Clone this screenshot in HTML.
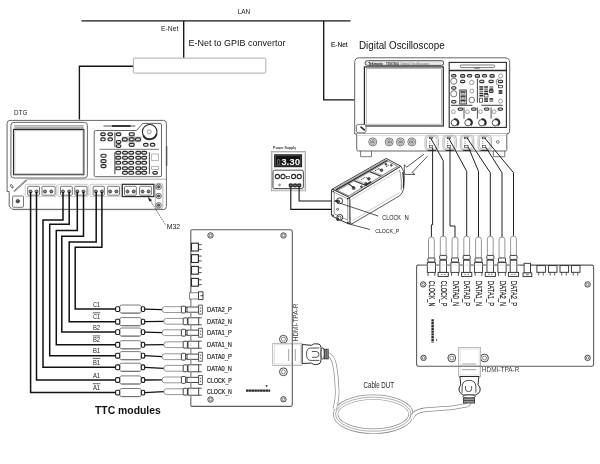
<!DOCTYPE html>
<html><head><meta charset="utf-8"><title>Test setup</title>
<style>
html,body{margin:0;padding:0;background:#fff;}
body{width:600px;height:464px;overflow:hidden;}
svg{display:block;font-family:"Liberation Sans",sans-serif;filter:grayscale(1) blur(0.35px);}
</style></head><body>
<svg width="600" height="464" viewBox="0 0 600 464">
<rect width="600" height="464" fill="#fff"/>
<g fill="none" stroke="#151515" stroke-width="1.35">
<path d="M81.5 20.8H350.5"/>
<path d="M183.7 21V57.8"/>
<path d="M323.7 21V99.8H355"/>
<path d="M133.4 66.2H79.4V119.5"/>
</g>
<rect x="133.4" y="58.1" width="132.4" height="15" rx="1" fill="#fff" stroke="#999" stroke-width="0.8"/>
<text x="237.7" y="14.2" font-size="8" font-weight="normal" fill="#222" textLength="12.5" lengthAdjust="spacingAndGlyphs" >LAN</text>
<text x="161" y="31" font-size="7" font-weight="normal" fill="#222" textLength="17.3" lengthAdjust="spacingAndGlyphs" >E-Net</text>
<text x="331" y="47" font-size="7" font-weight="normal" fill="#222" textLength="16.7" lengthAdjust="spacingAndGlyphs" stroke="#222" stroke-width="0.15">E-Net</text>
<text x="188.6" y="46" font-size="9.9" font-weight="normal" fill="#111" textLength="96.8" lengthAdjust="spacingAndGlyphs" >E-Net to GPIB convertor</text>
<text x="359" y="49.3" font-size="11.6" font-weight="normal" fill="#111" textLength="85.7" lengthAdjust="spacingAndGlyphs" >Digital Oscilloscope</text>
<text x="14" y="115.4" font-size="7" font-weight="normal" fill="#222" textLength="13.3" lengthAdjust="spacingAndGlyphs" >DTG</text>
<text x="166.7" y="229" font-size="8" font-weight="normal" fill="#222" textLength="13.5" lengthAdjust="spacingAndGlyphs" >M32</text>
<text x="95" y="413.7" font-size="10.2" font-weight="bold" fill="#111" textLength="65.8" lengthAdjust="spacingAndGlyphs" >TTC modules</text>
<g fill="none" stroke-linejoin="round">
<path d="M10 120.4H163.6Q166.4 120.4 166.4 123.4V206.4Q166.4 209.6 163.2 209.6H12.6L9.2 206V191.5H7.1V123.4Q7.1 120.4 10 120.4Z" fill="#fff" stroke="#555" stroke-width="0.9"/>
<path d="M26.5 179.2H166.4" stroke="#8a8a8a" stroke-width="0.7"/>
<path d="M9.2 208.4H160" stroke="#bbb" stroke-width="0.5"/>
<path d="M166.6 146V166" stroke="#555" stroke-width="1.4"/>
<rect x="10.9" y="122.4" width="76.5" height="55.6" rx="3" stroke="#555" stroke-width="0.9"/>
<path d="M14.3 125.9H83.7M14.3 127.9H83.7" stroke="#555" stroke-width="0.8"/>
<rect x="13.5" y="129.4" width="70.4" height="45.4" stroke="#2a2a2a" stroke-width="1.1"/>
<rect x="14.8" y="130.6" width="68" height="43" stroke="#8a8a8a" stroke-width="0.5"/>
<path d="M26.5 180L14 191.5" stroke="#555" stroke-width="1.6"/>
<path d="M26.5 180L14 191.5" stroke="#fff" stroke-width="0.5"/>
<ellipse cx="11.8" cy="186.3" rx="1" ry="1.9" transform="rotate(-35 11.8 186.3)" stroke="#2a2a2a" stroke-width="0.7"/>
<path d="M95.7 130.5H136.6L142.6 123.4H160Q161.5 123.4 161.5 125V175.2Q161.5 176.7 160 176.7H95.7Q94.2 176.7 94.2 175.2V132Q94.2 130.5 95.7 130.5Z" stroke="#555" stroke-width="0.9"/>
<path d="M103.5 126H135.4" stroke="#2a2a2a" stroke-width="0.8"/>
<path d="M112 126H130.5" stroke="#2a2a2a" stroke-width="1.8"/>
<circle cx="149.7" cy="131.8" r="7.3" stroke="#2a2a2a" stroke-width="1.1" fill="#fff"/>
<path d="M143.2 135.5A7.3 7.3 0 0 0 156.7 133.8" stroke="#2a2a2a" stroke-width="1.7"/>
<circle cx="149.2" cy="131.8" r="2" stroke="#555" stroke-width="0.6"/>
<path d="M99.3 149.3H159" stroke="#555" stroke-width="0.8"/>
<path d="M114.9 132.2V147.3M114.9 152.3V174.2M149.4 152.3V174.2" stroke="#2a2a2a" stroke-width="0.9"/>
</g>
<rect x="100.7" y="132.8" width="4.6" height="2.8" rx="1.4" fill="#e6e6e6" stroke="#2a2a2a" stroke-width="1.15"/>
<rect x="100.7" y="137.9" width="4.6" height="2.8" rx="1.4" fill="#e6e6e6" stroke="#2a2a2a" stroke-width="1.15"/>
<rect x="107.9" y="132.8" width="4.6" height="2.8" rx="1.4" fill="#e6e6e6" stroke="#2a2a2a" stroke-width="1.15"/>
<rect x="107.9" y="137.9" width="4.6" height="2.8" rx="1.4" fill="#e6e6e6" stroke="#2a2a2a" stroke-width="1.15"/>
<rect x="116.3" y="132.8" width="4.6" height="2.8" rx="1.4" fill="#e6e6e6" stroke="#2a2a2a" stroke-width="1.15"/>
<rect x="116.3" y="140.5" width="4.6" height="2.8" rx="1.4" fill="#e6e6e6" stroke="#2a2a2a" stroke-width="1.15"/>
<rect x="116.3" y="144.7" width="4.6" height="2.8" rx="1.4" fill="#e6e6e6" stroke="#2a2a2a" stroke-width="1.15"/>
<path d="M128.6 132H134.8V136.6H141.4V142.2H134.8V146.8H128.6V142.2H121.6V136.6H128.6Z" fill="#c8c8c8"/>
<rect x="129.2" y="132.7" width="5" height="3" rx="1.5" fill="#e6e6e6" stroke="#2a2a2a" stroke-width="1.15"/>
<rect x="129.2" y="143.3" width="5" height="3" rx="1.5" fill="#e6e6e6" stroke="#2a2a2a" stroke-width="1.15"/>
<rect x="122.3" y="137.9" width="5" height="3" rx="1.5" fill="#e6e6e6" stroke="#2a2a2a" stroke-width="1.15"/>
<rect x="135.5" y="137.9" width="5" height="3" rx="1.5" fill="#e6e6e6" stroke="#2a2a2a" stroke-width="1.15"/>
<rect x="129.2" y="137.9" width="5" height="3" rx="1.5" fill="#e6e6e6" stroke="#2a2a2a" stroke-width="1.15"/>
<rect x="143.5" y="143.4" width="4.6" height="2.8" rx="1.4" fill="#e6e6e6" stroke="#2a2a2a" stroke-width="1.15"/>
<rect x="150.3" y="143.4" width="4.6" height="2.8" rx="1.4" fill="#e6e6e6" stroke="#2a2a2a" stroke-width="1.15"/>
<rect x="100.9" y="154.2" width="5.2" height="3" rx="1.5" fill="#e6e6e6" stroke="#2a2a2a" stroke-width="1.15"/>
<rect x="100.9" y="159.6" width="5.2" height="3" rx="1.5" fill="#e6e6e6" stroke="#2a2a2a" stroke-width="1.15"/>
<rect x="100.9" y="164.6" width="5.2" height="3" rx="1.5" fill="#e6e6e6" stroke="#2a2a2a" stroke-width="1.15"/>
<rect x="115.8" y="151.3" width="5" height="2.8" rx="1.4" fill="#e6e6e6" stroke="#2a2a2a" stroke-width="1.15"/>
<rect x="122.5" y="151.3" width="5" height="2.8" rx="1.4" fill="#e6e6e6" stroke="#2a2a2a" stroke-width="1.15"/>
<rect x="128.7" y="151.3" width="5" height="2.8" rx="1.4" fill="#e6e6e6" stroke="#2a2a2a" stroke-width="1.15"/>
<rect x="135.8" y="151.3" width="5" height="2.8" rx="1.4" fill="#e6e6e6" stroke="#2a2a2a" stroke-width="1.15"/>
<rect x="141.7" y="151.3" width="5" height="2.8" rx="1.4" fill="#e6e6e6" stroke="#2a2a2a" stroke-width="1.15"/>
<rect x="115.8" y="156.3" width="5" height="2.8" rx="1.4" fill="#e6e6e6" stroke="#2a2a2a" stroke-width="1.15"/>
<rect x="122.5" y="156.3" width="5" height="2.8" rx="1.4" fill="#e6e6e6" stroke="#2a2a2a" stroke-width="1.15"/>
<rect x="128.7" y="156.3" width="5" height="2.8" rx="1.4" fill="#e6e6e6" stroke="#2a2a2a" stroke-width="1.15"/>
<rect x="135.8" y="156.3" width="5" height="2.8" rx="1.4" fill="#e6e6e6" stroke="#2a2a2a" stroke-width="1.15"/>
<rect x="141.7" y="156.3" width="5" height="2.8" rx="1.4" fill="#e6e6e6" stroke="#2a2a2a" stroke-width="1.15"/>
<rect x="115.8" y="161.4" width="5" height="2.8" rx="1.4" fill="#e6e6e6" stroke="#2a2a2a" stroke-width="1.15"/>
<rect x="122.5" y="161.4" width="5" height="2.8" rx="1.4" fill="#e6e6e6" stroke="#2a2a2a" stroke-width="1.15"/>
<rect x="128.7" y="161.4" width="5" height="2.8" rx="1.4" fill="#e6e6e6" stroke="#2a2a2a" stroke-width="1.15"/>
<rect x="135.8" y="161.4" width="5" height="2.8" rx="1.4" fill="#e6e6e6" stroke="#2a2a2a" stroke-width="1.15"/>
<rect x="141.7" y="161.4" width="5" height="2.8" rx="1.4" fill="#e6e6e6" stroke="#2a2a2a" stroke-width="1.15"/>
<rect x="115.8" y="166.9" width="5" height="2.8" rx="1.4" fill="#e6e6e6" stroke="#2a2a2a" stroke-width="1.15"/>
<rect x="122.5" y="166.9" width="5" height="2.8" rx="1.4" fill="#e6e6e6" stroke="#2a2a2a" stroke-width="1.15"/>
<rect x="128.7" y="166.9" width="5" height="2.8" rx="1.4" fill="#e6e6e6" stroke="#2a2a2a" stroke-width="1.15"/>
<rect x="135.8" y="166.9" width="5" height="2.8" rx="1.4" fill="#e6e6e6" stroke="#2a2a2a" stroke-width="1.15"/>
<rect x="141.7" y="166.9" width="5" height="2.8" rx="1.4" fill="#e6e6e6" stroke="#2a2a2a" stroke-width="1.15"/>
<rect x="122.5" y="171.4" width="5" height="2.8" rx="1.4" fill="#e6e6e6" stroke="#2a2a2a" stroke-width="1.15"/>
<rect x="128.7" y="171.4" width="5" height="2.8" rx="1.4" fill="#e6e6e6" stroke="#2a2a2a" stroke-width="1.15"/>
<rect x="135.8" y="171.4" width="5" height="2.8" rx="1.4" fill="#e6e6e6" stroke="#2a2a2a" stroke-width="1.15"/>
<rect x="141.7" y="171.4" width="5" height="2.8" rx="1.4" fill="#e6e6e6" stroke="#2a2a2a" stroke-width="1.15"/>
<rect x="151.7" y="154" width="6.7" height="6.7" fill="#fff" stroke="#999" stroke-width="0.7"/>
<rect x="151.7" y="166.6" width="6.7" height="2.9" fill="#fff" stroke="#999" stroke-width="0.7"/>
<rect x="152.8" y="171.5" width="4.6" height="2.6" rx="1.3" fill="#e6e6e6" stroke="#2a2a2a" stroke-width="1.15"/>
<g fill="none">
<rect x="25.2" y="184.3" width="31.1" height="12.3" rx="1" stroke="#aaa" stroke-width="0.6"/>
<rect x="58" y="184.3" width="30.2" height="12.3" rx="1" stroke="#aaa" stroke-width="0.6"/>
<rect x="90" y="184.3" width="31.1" height="12.3" rx="1" stroke="#aaa" stroke-width="0.6"/>
<rect x="122.3" y="184.3" width="31.6" height="12.3" stroke="#2a2a2a" stroke-width="1.2"/>
<rect x="27.7" y="186.3" width="11.8" height="8.9" rx="0.8" stroke="#555" stroke-width="0.8"/>
<rect x="42" y="186.3" width="13.1" height="8.9" rx="0.8" stroke="#555" stroke-width="0.8"/>
<rect x="60.5" y="186.3" width="11.8" height="8.9" rx="0.8" stroke="#555" stroke-width="0.8"/>
<rect x="74.8" y="186.3" width="12.2" height="8.9" rx="0.8" stroke="#555" stroke-width="0.8"/>
<rect x="93.1" y="186.3" width="11.2" height="8.9" rx="0.8" stroke="#555" stroke-width="0.8"/>
<rect x="107.7" y="186.3" width="11.8" height="8.9" rx="0.8" stroke="#555" stroke-width="0.8"/>
<rect x="124.5" y="186.3" width="11.8" height="8.9" rx="0.8" stroke="#555" stroke-width="0.8"/>
<rect x="139.6" y="186.3" width="11.8" height="8.9" rx="0.8" stroke="#555" stroke-width="0.8"/>
</g>
<circle cx="30.6" cy="191.5" r="1.5" fill="#888" stroke="#2a2a2a" stroke-width="0.8"/>
<circle cx="36.5" cy="191.5" r="1.5" fill="#888" stroke="#2a2a2a" stroke-width="0.8"/>
<circle cx="45" cy="191.5" r="1.5" fill="#888" stroke="#2a2a2a" stroke-width="0.8"/>
<circle cx="51.3" cy="191.5" r="1.5" fill="#888" stroke="#2a2a2a" stroke-width="0.8"/>
<circle cx="63" cy="191.5" r="1.5" fill="#888" stroke="#2a2a2a" stroke-width="0.8"/>
<circle cx="69.2" cy="191.5" r="1.5" fill="#888" stroke="#2a2a2a" stroke-width="0.8"/>
<circle cx="77.3" cy="191.5" r="1.5" fill="#888" stroke="#2a2a2a" stroke-width="0.8"/>
<circle cx="83.5" cy="191.5" r="1.5" fill="#888" stroke="#2a2a2a" stroke-width="0.8"/>
<circle cx="95.9" cy="191.5" r="1.5" fill="#888" stroke="#2a2a2a" stroke-width="0.8"/>
<circle cx="101.9" cy="191.5" r="1.5" fill="#888" stroke="#2a2a2a" stroke-width="0.8"/>
<circle cx="110.2" cy="191.5" r="1.5" fill="#888" stroke="#2a2a2a" stroke-width="0.8"/>
<circle cx="116.4" cy="191.5" r="1.5" fill="#888" stroke="#2a2a2a" stroke-width="0.8"/>
<circle cx="127.5" cy="191.5" r="1.5" fill="#888" stroke="#2a2a2a" stroke-width="0.8"/>
<circle cx="133.7" cy="191.5" r="1.5" fill="#888" stroke="#2a2a2a" stroke-width="0.8"/>
<circle cx="142.6" cy="191.5" r="1.5" fill="#888" stroke="#2a2a2a" stroke-width="0.8"/>
<circle cx="148.5" cy="191.5" r="1.5" fill="#888" stroke="#2a2a2a" stroke-width="0.8"/>
<rect x="155.3" y="183.4" width="7.6" height="25.4" rx="2.4" fill="none" stroke="#999" stroke-width="0.7"/>
<circle cx="158.6" cy="186.8" r="2.7" fill="#fff" stroke="#2a2a2a" stroke-width="0.7"/>
<circle cx="158.6" cy="186.8" r="1.3" fill="#555" stroke="#2a2a2a" stroke-width="0.5"/>
<circle cx="158.6" cy="196" r="2.7" fill="#fff" stroke="#2a2a2a" stroke-width="0.7"/>
<circle cx="158.6" cy="196" r="1.3" fill="#555" stroke="#2a2a2a" stroke-width="0.5"/>
<circle cx="158.6" cy="205.3" r="2.7" fill="#fff" stroke="#2a2a2a" stroke-width="0.7"/>
<circle cx="158.6" cy="205.3" r="1.3" fill="#555" stroke="#2a2a2a" stroke-width="0.5"/>
<rect x="12.6" y="196" width="10.9" height="11.3" rx="1" fill="#fff" stroke="#555" stroke-width="0.8"/>
<circle cx="17.8" cy="201.2" r="1.8" fill="#555" stroke="#2a2a2a" stroke-width="0.6"/>
<path d="M165.3 224.6L149.5 199.3" stroke="#2a2a2a" stroke-width="0.7" stroke-dasharray="1.6 1" fill="none"/>
<path d="M147.7 196.8L152.2 200.2L149.3 201.6Z" fill="#2a2a2a"/>
<g fill="none" stroke="#111" stroke-width="1.5" stroke-linejoin="miter">
<path d="M30.6 192V392.6H116"/>
<path d="M36.5 192V380.0H116"/>
<path d="M63 192V220.1H43V367.3H116"/>
<path d="M69.2 192V224.2H49.7V355.7H116"/>
<path d="M77.3 192V230.6H56.3V344.8H116"/>
<path d="M83.5 192V236.3H61.8V332.1H116"/>
<path d="M96.2 192V242H69.2V321.7H116"/>
<path d="M101.9 192V247.2H75.2V309.1H116"/>
</g>
<path d="M192 229.8H290.4Q292.3 229.8 292.3 231.7V404.5Q292.3 406.4 290.4 406.4H192Q190.8 406.4 190.8 405V231.2Q190.8 229.8 192 229.8Z" fill="#fff" stroke="#5c5c5c" stroke-width="1.1"/>
<circle cx="210.5" cy="235.4" r="2.7" fill="#fff" stroke="#333" stroke-width="0.9"/>
<circle cx="210.5" cy="235.4" r="1.3" fill="none" stroke="#555" stroke-width="0.7"/>
<circle cx="283.5" cy="235.5" r="2.7" fill="#fff" stroke="#333" stroke-width="0.9"/>
<circle cx="283.5" cy="235.5" r="1.3" fill="none" stroke="#555" stroke-width="0.7"/>
<circle cx="210.5" cy="399.5" r="2.7" fill="#fff" stroke="#333" stroke-width="0.9"/>
<circle cx="210.5" cy="399.5" r="1.3" fill="none" stroke="#555" stroke-width="0.7"/>
<circle cx="283.5" cy="399.3" r="2.7" fill="#fff" stroke="#333" stroke-width="0.9"/>
<circle cx="283.5" cy="399.3" r="1.3" fill="none" stroke="#555" stroke-width="0.7"/>
<circle cx="283.4" cy="339.2" r="3.9" fill="#fff" stroke="#333" stroke-width="0.9"/>
<circle cx="283.4" cy="339.2" r="2" fill="none" stroke="#555" stroke-width="0.7"/>
<circle cx="283.4" cy="371.8" r="3.9" fill="#fff" stroke="#333" stroke-width="0.9"/>
<circle cx="283.4" cy="371.8" r="2" fill="none" stroke="#555" stroke-width="0.7"/>
<rect x="191.5" y="243.2" width="6.9" height="7.8" fill="#fff" stroke="#2a2a2a" stroke-width="1.1"/>
<path d="M198.4 244.6H201.7M198.4 249.4H201.7" stroke="#2a2a2a" stroke-width="0.8" fill="none"/>
<rect x="191.5" y="254.7" width="6.9" height="7.8" fill="#fff" stroke="#2a2a2a" stroke-width="1.1"/>
<path d="M198.4 256.1H201.7M198.4 260.9H201.7" stroke="#2a2a2a" stroke-width="0.8" fill="none"/>
<rect x="191.5" y="266.4" width="6.9" height="7.8" fill="#fff" stroke="#2a2a2a" stroke-width="1.1"/>
<path d="M198.4 267.8H201.7M198.4 272.6H201.7" stroke="#2a2a2a" stroke-width="0.8" fill="none"/>
<rect x="191.5" y="278.4" width="6.9" height="7.8" fill="#fff" stroke="#2a2a2a" stroke-width="1.1"/>
<path d="M198.4 279.8H201.7M198.4 284.6H201.7" stroke="#2a2a2a" stroke-width="0.8" fill="none"/>
<rect x="189.5" y="292.8" width="9" height="6.2" fill="#fff" stroke="#666" stroke-width="0.8"/>
<path d="M198.5 291.8H203V299.6H198.5ZM200.6 295.7H203" stroke="#2a2a2a" stroke-width="0.9" fill="#fff"/>
<rect x="119.7" y="305.0" width="21.6" height="8.2" rx="2" fill="#fff" stroke="#6e6e6e" stroke-width="0.9"/>
<path d="M121.5 313.0H139.5" stroke="#555" stroke-width="0.6"/>
<rect x="115.6" y="306.7" width="4.1" height="4.8" rx="1.2" fill="#fff" stroke="#1a1a1a" stroke-width="1.1"/>
<rect x="141.3" y="306.7" width="3.4" height="4.8" rx="1.2" fill="#fff" stroke="#1a1a1a" stroke-width="1.1"/>
<path d="M144.5 309.1L162.1 309.6" stroke="#111" stroke-width="1.3" fill="none"/>
<path d="M181.4 306.7H164.6Q162.1 306.7 162.1 309.6Q162.1 312.5 164.6 312.5H181.4" fill="#fff" stroke="#7c7c7c" stroke-width="0.8"/>
<rect x="181.4" y="306.2" width="4.2" height="6.8" rx="0.8" fill="#fff" stroke="#2a2a2a" stroke-width="0.9"/>
<path d="M185.6 307.4H187M185.6 311.8H187" stroke="#2a2a2a" stroke-width="0.8" fill="none"/>
<rect x="187" y="307.0" width="11.7" height="5.2" fill="#fff" stroke="#333" stroke-width="0.9"/>
<rect x="198.7" y="305.1" width="3.6" height="9" fill="#fff" stroke="#3a3a3a" stroke-width="0.8"/>
<path d="M200.5 307.4V308.8M200.5 310.4V311.8" stroke="#2a2a2a" stroke-width="0.7"/>
<text x="92.9" y="306.7" font-size="7.6" font-weight="normal" fill="#222" textLength="7.2" lengthAdjust="spacingAndGlyphs" >C1</text>
<text x="207.1" y="312.3" font-size="7.7" font-weight="normal" fill="#222" textLength="24.8" lengthAdjust="spacingAndGlyphs" stroke="#222" stroke-width="0.2">DATA2_P</text>
<rect x="119.7" y="317.6" width="21.6" height="8.2" rx="2" fill="#fff" stroke="#6e6e6e" stroke-width="0.9"/>
<path d="M121.5 325.6H139.5" stroke="#555" stroke-width="0.6"/>
<rect x="115.6" y="319.3" width="4.1" height="4.8" rx="1.2" fill="#fff" stroke="#1a1a1a" stroke-width="1.1"/>
<rect x="141.3" y="319.3" width="3.4" height="4.8" rx="1.2" fill="#fff" stroke="#1a1a1a" stroke-width="1.1"/>
<path d="M144.5 321.7L163.9 321.3" stroke="#111" stroke-width="1.3" fill="none"/>
<path d="M183.2 318.4H166.4Q163.9 318.4 163.9 321.3Q163.9 324.2 166.4 324.2H183.2" fill="#fff" stroke="#7c7c7c" stroke-width="0.8"/>
<rect x="183.2" y="317.9" width="4.2" height="6.8" rx="0.8" fill="#fff" stroke="#2a2a2a" stroke-width="0.9"/>
<path d="M187.4 319.1H188M187.4 323.5H188" stroke="#2a2a2a" stroke-width="0.8" fill="none"/>
<rect x="188" y="317.8" width="10.7" height="7" fill="#fff" stroke="#333" stroke-width="0.9"/>
<path d="M198.7 317.8H201.8M198.7 324.8H201.8" stroke="#2a2a2a" stroke-width="0.8" fill="none"/>
<text x="92.9" y="319.3" font-size="7.6" font-weight="normal" fill="#222" textLength="7.2" lengthAdjust="spacingAndGlyphs" >C1</text>
<path d="M92.7 312.8H100.3" stroke="#222" stroke-width="0.7"/>
<text x="207.1" y="324.0" font-size="7.7" font-weight="normal" fill="#222" textLength="24.8" lengthAdjust="spacingAndGlyphs" stroke="#222" stroke-width="0.2">DATA2_N</text>
<rect x="119.7" y="328.0" width="21.6" height="8.2" rx="2" fill="#fff" stroke="#6e6e6e" stroke-width="0.9"/>
<path d="M121.5 336.0H139.5" stroke="#555" stroke-width="0.6"/>
<rect x="115.6" y="329.7" width="4.1" height="4.8" rx="1.2" fill="#fff" stroke="#1a1a1a" stroke-width="1.1"/>
<rect x="141.3" y="329.7" width="3.4" height="4.8" rx="1.2" fill="#fff" stroke="#1a1a1a" stroke-width="1.1"/>
<path d="M144.5 332.1L162.1 332.7" stroke="#111" stroke-width="1.3" fill="none"/>
<path d="M181.4 329.8H164.6Q162.1 329.8 162.1 332.7Q162.1 335.6 164.6 335.6H181.4" fill="#fff" stroke="#7c7c7c" stroke-width="0.8"/>
<rect x="181.4" y="329.3" width="4.2" height="6.8" rx="0.8" fill="#fff" stroke="#2a2a2a" stroke-width="0.9"/>
<path d="M185.6 330.5H187M185.6 334.9H187" stroke="#2a2a2a" stroke-width="0.8" fill="none"/>
<rect x="187" y="330.1" width="11.7" height="5.2" fill="#fff" stroke="#333" stroke-width="0.9"/>
<rect x="198.7" y="328.2" width="3.6" height="9" fill="#fff" stroke="#3a3a3a" stroke-width="0.8"/>
<path d="M200.5 330.5V331.9M200.5 333.5V334.9" stroke="#2a2a2a" stroke-width="0.7"/>
<text x="92.9" y="329.7" font-size="7.6" font-weight="normal" fill="#222" textLength="7.2" lengthAdjust="spacingAndGlyphs" >B2</text>
<text x="207.1" y="335.4" font-size="7.7" font-weight="normal" fill="#222" textLength="24.8" lengthAdjust="spacingAndGlyphs" stroke="#222" stroke-width="0.2">DATA1_P</text>
<rect x="119.7" y="340.7" width="21.6" height="8.2" rx="2" fill="#fff" stroke="#6e6e6e" stroke-width="0.9"/>
<path d="M121.5 348.7H139.5" stroke="#555" stroke-width="0.6"/>
<rect x="115.6" y="342.4" width="4.1" height="4.8" rx="1.2" fill="#fff" stroke="#1a1a1a" stroke-width="1.1"/>
<rect x="141.3" y="342.4" width="3.4" height="4.8" rx="1.2" fill="#fff" stroke="#1a1a1a" stroke-width="1.1"/>
<path d="M144.5 344.8L163.9 344.7" stroke="#111" stroke-width="1.3" fill="none"/>
<path d="M183.2 341.8H166.4Q163.9 341.8 163.9 344.7Q163.9 347.6 166.4 347.6H183.2" fill="#fff" stroke="#7c7c7c" stroke-width="0.8"/>
<rect x="183.2" y="341.3" width="4.2" height="6.8" rx="0.8" fill="#fff" stroke="#2a2a2a" stroke-width="0.9"/>
<path d="M187.4 342.5H188M187.4 346.9H188" stroke="#2a2a2a" stroke-width="0.8" fill="none"/>
<rect x="188" y="341.2" width="10.7" height="7" fill="#fff" stroke="#333" stroke-width="0.9"/>
<path d="M198.7 341.2H201.8M198.7 348.2H201.8" stroke="#2a2a2a" stroke-width="0.8" fill="none"/>
<text x="92.9" y="342.4" font-size="7.6" font-weight="normal" fill="#222" textLength="7.2" lengthAdjust="spacingAndGlyphs" >B2</text>
<path d="M92.7 335.9H100.3" stroke="#222" stroke-width="0.7"/>
<text x="207.1" y="347.4" font-size="7.7" font-weight="normal" fill="#222" textLength="24.8" lengthAdjust="spacingAndGlyphs" stroke="#222" stroke-width="0.2">DATA1_N</text>
<rect x="119.7" y="351.6" width="21.6" height="8.2" rx="2" fill="#fff" stroke="#6e6e6e" stroke-width="0.9"/>
<path d="M121.5 359.6H139.5" stroke="#555" stroke-width="0.6"/>
<rect x="115.6" y="353.3" width="4.1" height="4.8" rx="1.2" fill="#fff" stroke="#1a1a1a" stroke-width="1.1"/>
<rect x="141.3" y="353.3" width="3.4" height="4.8" rx="1.2" fill="#fff" stroke="#1a1a1a" stroke-width="1.1"/>
<path d="M144.5 355.7L162.1 356.7" stroke="#111" stroke-width="1.3" fill="none"/>
<path d="M181.4 353.8H164.6Q162.1 353.8 162.1 356.7Q162.1 359.6 164.6 359.6H181.4" fill="#fff" stroke="#7c7c7c" stroke-width="0.8"/>
<rect x="181.4" y="353.3" width="4.2" height="6.8" rx="0.8" fill="#fff" stroke="#2a2a2a" stroke-width="0.9"/>
<path d="M185.6 354.5H187M185.6 358.9H187" stroke="#2a2a2a" stroke-width="0.8" fill="none"/>
<rect x="187" y="354.1" width="11.7" height="5.2" fill="#fff" stroke="#333" stroke-width="0.9"/>
<rect x="198.7" y="352.2" width="3.6" height="9" fill="#fff" stroke="#3a3a3a" stroke-width="0.8"/>
<path d="M200.5 354.5V355.9M200.5 357.5V358.9" stroke="#2a2a2a" stroke-width="0.7"/>
<text x="92.9" y="353.3" font-size="7.6" font-weight="normal" fill="#222" textLength="7.2" lengthAdjust="spacingAndGlyphs" >B1</text>
<text x="207.1" y="359.4" font-size="7.7" font-weight="normal" fill="#222" textLength="24.8" lengthAdjust="spacingAndGlyphs" stroke="#222" stroke-width="0.2">DATA0_P</text>
<rect x="119.7" y="363.2" width="21.6" height="8.2" rx="2" fill="#fff" stroke="#6e6e6e" stroke-width="0.9"/>
<path d="M121.5 371.2H139.5" stroke="#555" stroke-width="0.6"/>
<rect x="115.6" y="364.9" width="4.1" height="4.8" rx="1.2" fill="#fff" stroke="#1a1a1a" stroke-width="1.1"/>
<rect x="141.3" y="364.9" width="3.4" height="4.8" rx="1.2" fill="#fff" stroke="#1a1a1a" stroke-width="1.1"/>
<path d="M144.5 367.3L163.9 368.3" stroke="#111" stroke-width="1.3" fill="none"/>
<path d="M183.2 365.4H166.4Q163.9 365.4 163.9 368.3Q163.9 371.2 166.4 371.2H183.2" fill="#fff" stroke="#7c7c7c" stroke-width="0.8"/>
<rect x="183.2" y="364.9" width="4.2" height="6.8" rx="0.8" fill="#fff" stroke="#2a2a2a" stroke-width="0.9"/>
<path d="M187.4 366.1H188M187.4 370.5H188" stroke="#2a2a2a" stroke-width="0.8" fill="none"/>
<rect x="188" y="364.8" width="10.7" height="7" fill="#fff" stroke="#333" stroke-width="0.9"/>
<path d="M198.7 364.8H201.8M198.7 371.8H201.8" stroke="#2a2a2a" stroke-width="0.8" fill="none"/>
<text x="92.9" y="364.9" font-size="7.6" font-weight="normal" fill="#222" textLength="7.2" lengthAdjust="spacingAndGlyphs" >B1</text>
<path d="M92.7 358.4H100.3" stroke="#222" stroke-width="0.7"/>
<text x="207.1" y="371.0" font-size="7.7" font-weight="normal" fill="#222" textLength="24.8" lengthAdjust="spacingAndGlyphs" stroke="#222" stroke-width="0.2">DATA0_N</text>
<rect x="119.7" y="375.9" width="21.6" height="8.2" rx="2" fill="#fff" stroke="#6e6e6e" stroke-width="0.9"/>
<path d="M121.5 383.9H139.5" stroke="#555" stroke-width="0.6"/>
<rect x="115.6" y="377.6" width="4.1" height="4.8" rx="1.2" fill="#fff" stroke="#1a1a1a" stroke-width="1.1"/>
<rect x="141.3" y="377.6" width="3.4" height="4.8" rx="1.2" fill="#fff" stroke="#1a1a1a" stroke-width="1.1"/>
<path d="M144.5 380.0L162.1 379.9" stroke="#111" stroke-width="1.3" fill="none"/>
<path d="M181.4 377.0H164.6Q162.1 377.0 162.1 379.9Q162.1 382.8 164.6 382.8H181.4" fill="#fff" stroke="#7c7c7c" stroke-width="0.8"/>
<rect x="181.4" y="376.5" width="4.2" height="6.8" rx="0.8" fill="#fff" stroke="#2a2a2a" stroke-width="0.9"/>
<path d="M185.6 377.7H187M185.6 382.1H187" stroke="#2a2a2a" stroke-width="0.8" fill="none"/>
<rect x="187" y="377.3" width="11.7" height="5.2" fill="#fff" stroke="#333" stroke-width="0.9"/>
<rect x="198.7" y="375.4" width="3.6" height="9" fill="#fff" stroke="#3a3a3a" stroke-width="0.8"/>
<path d="M200.5 377.7V379.1M200.5 380.7V382.1" stroke="#2a2a2a" stroke-width="0.7"/>
<text x="92.9" y="377.6" font-size="7.6" font-weight="normal" fill="#222" textLength="7.2" lengthAdjust="spacingAndGlyphs" >A1</text>
<text x="207.1" y="382.6" font-size="7.7" font-weight="normal" fill="#222" textLength="24.8" lengthAdjust="spacingAndGlyphs" stroke="#222" stroke-width="0.2">CLOCK_P</text>
<rect x="119.7" y="388.5" width="21.6" height="8.2" rx="2" fill="#fff" stroke="#6e6e6e" stroke-width="0.9"/>
<path d="M121.5 396.5H139.5" stroke="#555" stroke-width="0.6"/>
<rect x="115.6" y="390.2" width="4.1" height="4.8" rx="1.2" fill="#fff" stroke="#1a1a1a" stroke-width="1.1"/>
<rect x="141.3" y="390.2" width="3.4" height="4.8" rx="1.2" fill="#fff" stroke="#1a1a1a" stroke-width="1.1"/>
<path d="M144.5 392.6L163.9 391.7" stroke="#111" stroke-width="1.3" fill="none"/>
<path d="M183.2 388.8H166.4Q163.9 388.8 163.9 391.7Q163.9 394.6 166.4 394.6H183.2" fill="#fff" stroke="#7c7c7c" stroke-width="0.8"/>
<rect x="183.2" y="388.3" width="4.2" height="6.8" rx="0.8" fill="#fff" stroke="#2a2a2a" stroke-width="0.9"/>
<path d="M187.4 389.5H188M187.4 393.9H188" stroke="#2a2a2a" stroke-width="0.8" fill="none"/>
<rect x="188" y="388.2" width="10.7" height="7" fill="#fff" stroke="#333" stroke-width="0.9"/>
<path d="M198.7 388.2H201.8M198.7 395.2H201.8" stroke="#2a2a2a" stroke-width="0.8" fill="none"/>
<text x="92.9" y="390.2" font-size="7.6" font-weight="normal" fill="#222" textLength="7.2" lengthAdjust="spacingAndGlyphs" >A1</text>
<path d="M92.7 383.7H100.3" stroke="#222" stroke-width="0.7"/>
<text x="207.1" y="394.4" font-size="7.7" font-weight="normal" fill="#222" textLength="24.8" lengthAdjust="spacingAndGlyphs" stroke="#222" stroke-width="0.2">CLOCK_N</text>
<path d="M246 390.6H270.2" stroke="#2a2a2a" stroke-width="2.4" stroke-dasharray="2.5 0.3"/>
<path d="M265.3 385.2H267.9L266.6 387.2Z" fill="#2a2a2a"/>
<text transform="translate(298.3 341.2) rotate(-90)" font-size="7" fill="#444" textLength="37.5" lengthAdjust="spacingAndGlyphs">HDMI-TPA-R</text>
<rect x="272.7" y="343.3" width="29.3" height="22.2" fill="#fff" stroke="#aaa" stroke-width="0.8"/>
<rect x="274.2" y="344.8" width="26.3" height="19.2" fill="none" stroke="#ccc" stroke-width="0.6"/>
<path d="M288.7 349V361M295.3 349V361" stroke="#999" stroke-width="0.9"/>
<path d="M292.3 343.3V365.5" stroke="#5c5c5c" stroke-width="1.1"/>
<path d="M190.8 300V398" stroke="#ccc" stroke-width="0.6" fill="none"/>
<g fill="none" stroke-linejoin="round">
<path d="M359.2 57.8H505Q509.7 57.8 509.7 62.5V131Q509.7 134 506.8 134H354.7V62.5Q354.7 57.8 359.2 57.8Z" fill="#fff" stroke="#555" stroke-width="0.9"/>
<path d="M356.7 134V149.5Q356.7 151 358.2 151H505.3Q506.8 151 506.8 149.5V134" fill="#fff" stroke="#555" stroke-width="0.9"/>
<path d="M356.7 135.6H506.8" stroke="#bbb" stroke-width="0.5"/>
<path d="M360.6 151V156.7H371.5V151M493.4 151V156.7H504.8V151" stroke="#555" stroke-width="0.8"/>
<rect x="365.1" y="60.7" width="78.7" height="4.7" rx="2.3" fill="#e8e8e8" stroke="#2a2a2a" stroke-width="0.8"/>
</g>
<text x="368.2" y="64.6" font-size="3.8" font-weight="bold" fill="#111" textLength="14.6" lengthAdjust="spacingAndGlyphs">Tektronix</text>
<text x="386.1" y="64.6" font-size="3.6" font-weight="bold" fill="#333" textLength="12.6" lengthAdjust="spacingAndGlyphs">TDS7404</text>
<text x="400.4" y="64.6" font-size="3.6" fill="#666" textLength="28.6" lengthAdjust="spacingAndGlyphs">Digital Oscilloscope</text>
<g fill="none">
<rect x="364.4" y="66.9" width="78.9" height="59.1" fill="#fff" stroke="#2a2a2a" stroke-width="1.2"/>
<rect x="366.2" y="68.7" width="75.3" height="55.5" stroke="#8a8a8a" stroke-width="0.6"/>
<rect x="356.4" y="124.4" width="9.6" height="8.4" rx="2" fill="#fff" stroke="#555" stroke-width="0.8"/>
<path d="M361 127.1L364.3 129.9" stroke="#2a2a2a" stroke-width="1.6" stroke-linecap="round"/>
<rect x="449.2" y="62.4" width="57.2" height="65" stroke="#2a2a2a" stroke-width="1.1" fill="#fff"/>
<path d="M449.2 70.5H506.4" stroke="#2a2a2a" stroke-width="1.7"/>
<rect x="460.3" y="65" width="34.4" height="2.6" rx="1.3" stroke="#555" stroke-width="0.8"/>
<path d="M474 67.8Q477 68.8 480 67.8" stroke="#555" stroke-width="0.9"/>
<path d="M477.4 78.7V102.7" stroke="#2a2a2a" stroke-width="0.9"/>
<path d="M451 105.3H472.4M481.4 105.3H502.7" stroke="#2a2a2a" stroke-width="0.9"/>
<path d="M464 107.3V118.7M477.4 107.3V118.7M491.1 107.3V118.7" stroke="#2a2a2a" stroke-width="0.8"/>
</g>
<rect x="451.6" y="74.6" width="4.4" height="2.4" rx="1.2" fill="#e6e6e6" stroke="#2a2a2a" stroke-width="1.05"/>
<rect x="460.5" y="74.6" width="4.4" height="2.4" rx="1.2" fill="#e6e6e6" stroke="#2a2a2a" stroke-width="1.05"/>
<rect x="467.4" y="74.6" width="4.4" height="2.4" rx="1.2" fill="#e6e6e6" stroke="#2a2a2a" stroke-width="1.05"/>
<rect x="475.2" y="74.6" width="4.4" height="2.4" rx="1.2" fill="#e6e6e6" stroke="#2a2a2a" stroke-width="1.05"/>
<rect x="482.3" y="74.6" width="4.4" height="2.4" rx="1.2" fill="#e6e6e6" stroke="#2a2a2a" stroke-width="1.05"/>
<rect x="489.9" y="74.6" width="4.4" height="2.4" rx="1.2" fill="#e6e6e6" stroke="#2a2a2a" stroke-width="1.05"/>
<path d="M460.5 77.6H465M475 77.6H480M489.8 77.6H494.5" stroke="#2a2a2a" stroke-width="0.6"/>
<circle cx="500.7" cy="75.9" r="2" fill="#fff" stroke="#777" stroke-width="0.7"/>
<circle cx="453.8" cy="81.2" r="3.1" fill="#fff" stroke="#555" stroke-width="0.8"/>
<circle cx="453.8" cy="93.8" r="3.1" fill="#fff" stroke="#555" stroke-width="0.8"/>
<rect x="451.6" y="86.8" width="4.4" height="2.4" rx="1.2" fill="#e6e6e6" stroke="#2a2a2a" stroke-width="1.05"/>
<rect x="451.6" y="100.5" width="4.4" height="2.4" rx="1.2" fill="#e6e6e6" stroke="#2a2a2a" stroke-width="1.05"/>
<rect x="460.5" y="80.2" width="4.4" height="2.4" rx="1.2" fill="#e6e6e6" stroke="#2a2a2a" stroke-width="1.05"/>
<circle cx="471.8" cy="82.4" r="2.2" fill="#fff" stroke="#777" stroke-width="0.7"/>
<circle cx="471.8" cy="91.1" r="1.9" fill="#fff" stroke="#777" stroke-width="0.7"/>
<circle cx="471.8" cy="100" r="2.8" fill="#fff" stroke="#555" stroke-width="0.8"/>
<rect x="459.8" y="90" width="6.5" height="14" fill="#fff" stroke="#2a2a2a" stroke-width="0.9"/>
<rect x="460.6" y="91.2" width="4.9" height="1.5" fill="#2a2a2a"/>
<rect x="461.2" y="93.1" width="3.7" height="1.6" fill="#fff" stroke="#555" stroke-width="0.5"/>
<rect x="460.6" y="95.4" width="4.9" height="1.5" fill="#2a2a2a"/>
<rect x="461.2" y="97.3" width="3.7" height="1.6" fill="#fff" stroke="#555" stroke-width="0.5"/>
<rect x="460.6" y="99.6" width="4.9" height="1.5" fill="#2a2a2a"/>
<rect x="461.2" y="101.5" width="3.7" height="1.6" fill="#fff" stroke="#555" stroke-width="0.5"/>
<rect x="479.6" y="80.2" width="4.4" height="2.4" rx="1.2" fill="#e6e6e6" stroke="#2a2a2a" stroke-width="1.05"/>
<rect x="488.9" y="80.2" width="4.4" height="2.4" rx="1.2" fill="#e6e6e6" stroke="#2a2a2a" stroke-width="1.05"/>
<rect x="498.3" y="80.2" width="4.4" height="2.4" rx="1.2" fill="#e6e6e6" stroke="#2a2a2a" stroke-width="1.05"/>
<path d="M499 78.6Q496.2 78.8 496.2 82Q496.2 85 499 85.3" stroke="#555" stroke-width="0.7" fill="none"/>
<rect x="479.4" y="86.2" width="3.8" height="1.5" fill="#2a2a2a"/>
<rect x="479.4" y="88.4" width="3.8" height="1.5" fill="#2a2a2a"/>
<rect x="479.4" y="90.6" width="3.8" height="1.5" fill="#777"/>
<rect x="479.4" y="92.8" width="3.8" height="1.5" fill="#2a2a2a"/>
<rect x="479.4" y="95" width="3.8" height="1.5" fill="#2a2a2a"/>
<rect x="479.59999999999997" y="98.2" width="2.8" height="4" fill="#fff" stroke="#2a2a2a" stroke-width="0.7"/>
<rect x="484.2" y="86.2" width="3.8" height="1.5" fill="#2a2a2a"/>
<rect x="484.2" y="88.4" width="3.8" height="1.5" fill="#777"/>
<rect x="484.2" y="90.6" width="3.8" height="1.5" fill="#2a2a2a"/>
<rect x="484.2" y="92.8" width="3.8" height="1.5" fill="#2a2a2a"/>
<rect x="484.2" y="94.4" width="3.8" height="2.6" fill="#fff" stroke="#2a2a2a" stroke-width="0.7"/>
<rect x="484.2" y="98.2" width="3.8" height="1.5" fill="#2a2a2a"/>
<rect x="484.2" y="100.4" width="3.8" height="1.5" fill="#2a2a2a"/>
<rect x="489.4" y="86.2" width="3.8" height="1.5" fill="#777"/>
<rect x="489.4" y="88.4" width="3.8" height="1.5" fill="#2a2a2a"/>
<rect x="489.2" y="90.2" width="4" height="2.2" rx="1.1" fill="#e6e6e6" stroke="#2a2a2a" stroke-width="1.05"/>
<rect x="489.4" y="98.2" width="3.8" height="1.5" fill="#2a2a2a"/>
<rect x="489.4" y="100.4" width="3.8" height="1.5" fill="#777"/>
<rect x="498.4" y="85.6" width="4.2" height="2.2" fill="#fff" stroke="#2a2a2a" stroke-width="0.7"/>
<rect x="498.6" y="90.2" width="3.8" height="1.6" fill="#2a2a2a"/><rect x="498.6" y="92.3" width="3.8" height="1.6" fill="#2a2a2a"/>
<circle cx="500.5" cy="101.1" r="2" fill="#fff" stroke="#777" stroke-width="0.7"/>
<circle cx="453.4" cy="111.7" r="1.9" fill="#fff" stroke="#777" stroke-width="0.7"/>
<circle cx="467.4" cy="111.7" r="1.9" fill="#fff" stroke="#777" stroke-width="0.7"/>
<circle cx="480.5" cy="111.7" r="1.9" fill="#fff" stroke="#777" stroke-width="0.7"/>
<circle cx="494.1" cy="111.7" r="1.9" fill="#fff" stroke="#777" stroke-width="0.7"/>
<rect x="458.1" y="107.9" width="4.6" height="2.4" rx="1.2" fill="#e6e6e6" stroke="#2a2a2a" stroke-width="1.05"/>
<rect x="471.5" y="107.9" width="4.6" height="2.4" rx="1.2" fill="#e6e6e6" stroke="#2a2a2a" stroke-width="1.05"/>
<rect x="484.4" y="107.9" width="4.6" height="2.4" rx="1.2" fill="#e6e6e6" stroke="#2a2a2a" stroke-width="1.05"/>
<rect x="498.0" y="107.9" width="4.6" height="2.4" rx="1.2" fill="#e6e6e6" stroke="#2a2a2a" stroke-width="1.05"/>
<circle cx="454.4" cy="122.7" r="3.2" fill="#fff" stroke="#2a2a2a" stroke-width="0.8"/>
<path d="M454.0 119.4A3.3 3.3 0 0 1 457.0 125.2" stroke="#2a2a2a" stroke-width="1.7" fill="none"/>
<circle cx="468" cy="122.7" r="3.2" fill="#fff" stroke="#2a2a2a" stroke-width="0.8"/>
<path d="M467.6 119.4A3.3 3.3 0 0 1 470.6 125.2" stroke="#2a2a2a" stroke-width="1.7" fill="none"/>
<circle cx="481.8" cy="122.7" r="3.2" fill="#fff" stroke="#2a2a2a" stroke-width="0.8"/>
<path d="M481.4 119.4A3.3 3.3 0 0 1 484.4 125.2" stroke="#2a2a2a" stroke-width="1.7" fill="none"/>
<circle cx="495.4" cy="122.7" r="3.2" fill="#fff" stroke="#2a2a2a" stroke-width="0.8"/>
<path d="M495.0 119.4A3.3 3.3 0 0 1 498.0 125.2" stroke="#2a2a2a" stroke-width="1.7" fill="none"/>
<circle cx="372.7" cy="141.9" r="4" fill="#fff" stroke="#555" stroke-width="0.8"/>
<circle cx="372.7" cy="141.9" r="2.5" fill="#fff" stroke="#555" stroke-width="0.7"/>
<circle cx="372.7" cy="141.9" r="1.2" fill="#999" stroke="#555" stroke-width="0.5"/>
<circle cx="389.2" cy="141.9" r="4" fill="#fff" stroke="#555" stroke-width="0.8"/>
<circle cx="389.2" cy="141.9" r="2.5" fill="#fff" stroke="#555" stroke-width="0.7"/>
<circle cx="389.2" cy="141.9" r="1.2" fill="#999" stroke="#555" stroke-width="0.5"/>
<circle cx="400.4" cy="141.9" r="4" fill="#fff" stroke="#555" stroke-width="0.8"/>
<circle cx="400.4" cy="141.9" r="2.5" fill="#fff" stroke="#555" stroke-width="0.7"/>
<circle cx="400.4" cy="141.9" r="1.2" fill="#999" stroke="#555" stroke-width="0.5"/>
<circle cx="411.8" cy="141.9" r="4" fill="#fff" stroke="#555" stroke-width="0.8"/>
<circle cx="411.8" cy="141.9" r="2.5" fill="#fff" stroke="#555" stroke-width="0.7"/>
<circle cx="411.8" cy="141.9" r="1.2" fill="#999" stroke="#555" stroke-width="0.5"/>
<rect x="425" y="135.3" width="13.5" height="15" rx="3.5" fill="#fff" stroke="#999" stroke-width="0.7"/>
<rect x="426.5" y="136.6" width="10.5" height="12.4" rx="2.6" fill="none" stroke="#999" stroke-width="0.6"/>
<rect x="429.3" y="137.2" width="3.4" height="1.6" fill="#fff" stroke="#2a2a2a" stroke-width="0.6"/>
<rect x="429.3" y="145.6" width="3.4" height="2" fill="#fff" stroke="#2a2a2a" stroke-width="0.6"/>
<path d="M429.8 141V141.8M429.8 143.3V144.1" stroke="#2a2a2a" stroke-width="0.8"/>
<path d="M427.6 150.4H435.8" stroke="#2a2a2a" stroke-width="1.1"/>
<rect x="442.9" y="135.3" width="13.5" height="15" rx="3.5" fill="#fff" stroke="#999" stroke-width="0.7"/>
<rect x="444.4" y="136.6" width="10.5" height="12.4" rx="2.6" fill="none" stroke="#999" stroke-width="0.6"/>
<rect x="447.2" y="137.2" width="3.4" height="1.6" fill="#fff" stroke="#2a2a2a" stroke-width="0.6"/>
<rect x="447.2" y="145.6" width="3.4" height="2" fill="#fff" stroke="#2a2a2a" stroke-width="0.6"/>
<path d="M447.7 141V141.8M447.7 143.3V144.1" stroke="#2a2a2a" stroke-width="0.8"/>
<path d="M445.5 150.4H453.7" stroke="#2a2a2a" stroke-width="1.1"/>
<rect x="460.3" y="135.3" width="13.5" height="15" rx="3.5" fill="#fff" stroke="#999" stroke-width="0.7"/>
<rect x="461.8" y="136.6" width="10.5" height="12.4" rx="2.6" fill="none" stroke="#999" stroke-width="0.6"/>
<rect x="464.6" y="137.2" width="3.4" height="1.6" fill="#fff" stroke="#2a2a2a" stroke-width="0.6"/>
<rect x="464.6" y="145.6" width="3.4" height="2" fill="#fff" stroke="#2a2a2a" stroke-width="0.6"/>
<path d="M465.1 141V141.8M465.1 143.3V144.1" stroke="#2a2a2a" stroke-width="0.8"/>
<path d="M462.90000000000003 150.4H471.1" stroke="#2a2a2a" stroke-width="1.1"/>
<rect x="478" y="135.3" width="13.5" height="15" rx="3.5" fill="#fff" stroke="#999" stroke-width="0.7"/>
<rect x="479.5" y="136.6" width="10.5" height="12.4" rx="2.6" fill="none" stroke="#999" stroke-width="0.6"/>
<rect x="482.3" y="137.2" width="3.4" height="1.6" fill="#fff" stroke="#2a2a2a" stroke-width="0.6"/>
<rect x="482.3" y="145.6" width="3.4" height="2" fill="#fff" stroke="#2a2a2a" stroke-width="0.6"/>
<path d="M482.8 141V141.8M482.8 143.3V144.1" stroke="#2a2a2a" stroke-width="0.8"/>
<path d="M480.6 150.4H488.8" stroke="#2a2a2a" stroke-width="1.1"/>
<circle cx="497.8" cy="141.9" r="1.4" fill="#fff" stroke="#444" stroke-width="0.7"/>
<g fill="none" stroke="#222" stroke-width="1" stroke-linejoin="round">
<path d="M432.6 147.5V224.8H431.4V237"/>
<path d="M430.7 138L443.2 160.7V237"/>
<path d="M450 147.5V226H455V237"/>
<path d="M448.7 138L466.7 171.3V237"/>
<path d="M468.3 147L478.5 171.3V237"/>
<path d="M467.2 138L490.3 172.7V237"/>
<path d="M485.6 147L502 172.7V237"/>
<path d="M484.7 138L513.5 172.7V237"/>
</g>
<path d="M424 154.1L406.8 167.1L404.3 164.8V174.4H414.9L412.2 172.4L427.6 156.1" fill="none" stroke="#2a2a2a" stroke-width="0.8" stroke-linejoin="miter"/>
<path d="M418 265.1H592Q593.6 265.1 593.6 266.7V364.6Q593.6 366.2 592 366.2H418Q416.6 366.2 416.6 364.6V266.7Q416.6 265.1 418 265.1Z" fill="#fff" stroke="#5c5c5c" stroke-width="1.1"/>
<circle cx="423.2" cy="284.4" r="2.7" fill="#fff" stroke="#333" stroke-width="0.9"/>
<circle cx="423.2" cy="284.4" r="1.3" fill="none" stroke="#555" stroke-width="0.7"/>
<circle cx="587.6" cy="284.4" r="2.7" fill="#fff" stroke="#333" stroke-width="0.9"/>
<circle cx="587.6" cy="284.4" r="1.3" fill="none" stroke="#555" stroke-width="0.7"/>
<circle cx="423.5" cy="357.9" r="2.7" fill="#fff" stroke="#333" stroke-width="0.9"/>
<circle cx="423.5" cy="357.9" r="1.3" fill="none" stroke="#555" stroke-width="0.7"/>
<circle cx="587.6" cy="357.9" r="2.7" fill="#fff" stroke="#333" stroke-width="0.9"/>
<circle cx="587.6" cy="357.9" r="1.3" fill="none" stroke="#555" stroke-width="0.7"/>
<circle cx="451.8" cy="358" r="3.9" fill="#fff" stroke="#333" stroke-width="0.9"/>
<circle cx="451.8" cy="358" r="2" fill="none" stroke="#555" stroke-width="0.7"/>
<circle cx="484.5" cy="358" r="3.9" fill="#fff" stroke="#333" stroke-width="0.9"/>
<circle cx="484.5" cy="358" r="2" fill="none" stroke="#555" stroke-width="0.7"/>
<path d="M428.5 258.0V239.5Q428.5 237.0 431.4 237.0Q434.3 237.0 434.3 239.5V258.0" fill="#fff" stroke="#7c7c7c" stroke-width="0.8"/>
<rect x="427.9" y="258.0" width="7" height="4" rx="0.8" fill="#fff" stroke="#2a2a2a" stroke-width="0.9"/>
<path d="M429.2 262V262.6M433.6 262V262.6" stroke="#2a2a2a" stroke-width="0.8" fill="none"/>
<rect x="427.3" y="262.6" width="8.2" height="9.8" fill="#fff" stroke="#333" stroke-width="0.9"/>
<path d="M428.0 272.4V275.9M434.8 272.4V275.9" stroke="#2a2a2a" stroke-width="0.8" fill="none"/>
<text transform="translate(429.1 280.8) rotate(90)" font-size="8.2" fill="#222" stroke="#222" stroke-width="0.2" textLength="25.5" lengthAdjust="spacingAndGlyphs">CLOCK_N</text>
<path d="M440.3 255.4V238.6Q440.3 236.1 443.2 236.1Q446.1 236.1 446.1 238.6V255.4" fill="#fff" stroke="#7c7c7c" stroke-width="0.8"/>
<rect x="439.7" y="255.4" width="7" height="4" rx="0.8" fill="#fff" stroke="#2a2a2a" stroke-width="0.9"/>
<path d="M441.0 259.4V260.4M445.4 259.4V260.4" stroke="#2a2a2a" stroke-width="0.8" fill="none"/>
<rect x="439.9" y="260.2" width="6.6" height="12.2" fill="#fff" stroke="#333" stroke-width="0.9"/>
<rect x="438.1" y="272.4" width="10.2" height="4" fill="#fff" stroke="#2a2a2a" stroke-width="0.9"/>
<path d="M441.0 274.4H442.4M444.0 274.4H445.4" stroke="#2a2a2a" stroke-width="0.7"/>
<text transform="translate(440.9 280.8) rotate(90)" font-size="8.2" fill="#222" stroke="#222" stroke-width="0.2" textLength="25.5" lengthAdjust="spacingAndGlyphs">CLOCK_P</text>
<path d="M452.1 258.0V239.5Q452.1 237.0 455.0 237.0Q457.9 237.0 457.9 239.5V258.0" fill="#fff" stroke="#7c7c7c" stroke-width="0.8"/>
<rect x="451.5" y="258.0" width="7" height="4" rx="0.8" fill="#fff" stroke="#2a2a2a" stroke-width="0.9"/>
<path d="M452.8 262V262.6M457.2 262V262.6" stroke="#2a2a2a" stroke-width="0.8" fill="none"/>
<rect x="450.9" y="262.6" width="8.2" height="9.8" fill="#fff" stroke="#333" stroke-width="0.9"/>
<path d="M451.6 272.4V275.9M458.4 272.4V275.9" stroke="#2a2a2a" stroke-width="0.8" fill="none"/>
<text transform="translate(452.7 280.8) rotate(90)" font-size="8.2" fill="#222" stroke="#222" stroke-width="0.2" textLength="25.5" lengthAdjust="spacingAndGlyphs">DATA0_N</text>
<path d="M463.8 255.4V238.6Q463.8 236.1 466.7 236.1Q469.6 236.1 469.6 238.6V255.4" fill="#fff" stroke="#7c7c7c" stroke-width="0.8"/>
<rect x="463.2" y="255.4" width="7" height="4" rx="0.8" fill="#fff" stroke="#2a2a2a" stroke-width="0.9"/>
<path d="M464.5 259.4V260.4M468.9 259.4V260.4" stroke="#2a2a2a" stroke-width="0.8" fill="none"/>
<rect x="463.4" y="260.2" width="6.6" height="12.2" fill="#fff" stroke="#333" stroke-width="0.9"/>
<rect x="461.6" y="272.4" width="10.2" height="4" fill="#fff" stroke="#2a2a2a" stroke-width="0.9"/>
<path d="M464.5 274.4H465.9M467.5 274.4H468.9" stroke="#2a2a2a" stroke-width="0.7"/>
<text transform="translate(464.4 280.8) rotate(90)" font-size="8.2" fill="#222" stroke="#222" stroke-width="0.2" textLength="25.5" lengthAdjust="spacingAndGlyphs">DATA0_P</text>
<path d="M475.6 258.0V239.5Q475.6 237.0 478.5 237.0Q481.4 237.0 481.4 239.5V258.0" fill="#fff" stroke="#7c7c7c" stroke-width="0.8"/>
<rect x="475.0" y="258.0" width="7" height="4" rx="0.8" fill="#fff" stroke="#2a2a2a" stroke-width="0.9"/>
<path d="M476.3 262V262.6M480.7 262V262.6" stroke="#2a2a2a" stroke-width="0.8" fill="none"/>
<rect x="474.4" y="262.6" width="8.2" height="9.8" fill="#fff" stroke="#333" stroke-width="0.9"/>
<path d="M475.1 272.4V275.9M481.9 272.4V275.9" stroke="#2a2a2a" stroke-width="0.8" fill="none"/>
<text transform="translate(476.2 280.8) rotate(90)" font-size="8.2" fill="#222" stroke="#222" stroke-width="0.2" textLength="25.5" lengthAdjust="spacingAndGlyphs">DATA1_N</text>
<path d="M487.4 255.4V238.6Q487.4 236.1 490.3 236.1Q493.2 236.1 493.2 238.6V255.4" fill="#fff" stroke="#7c7c7c" stroke-width="0.8"/>
<rect x="486.8" y="255.4" width="7" height="4" rx="0.8" fill="#fff" stroke="#2a2a2a" stroke-width="0.9"/>
<path d="M488.1 259.4V260.4M492.5 259.4V260.4" stroke="#2a2a2a" stroke-width="0.8" fill="none"/>
<rect x="487.0" y="260.2" width="6.6" height="12.2" fill="#fff" stroke="#333" stroke-width="0.9"/>
<rect x="485.2" y="272.4" width="10.2" height="4" fill="#fff" stroke="#2a2a2a" stroke-width="0.9"/>
<path d="M488.1 274.4H489.5M491.1 274.4H492.5" stroke="#2a2a2a" stroke-width="0.7"/>
<text transform="translate(488.0 280.8) rotate(90)" font-size="8.2" fill="#222" stroke="#222" stroke-width="0.2" textLength="25.5" lengthAdjust="spacingAndGlyphs">DATA1_P</text>
<path d="M499.1 258.0V239.5Q499.1 237.0 502.0 237.0Q504.9 237.0 504.9 239.5V258.0" fill="#fff" stroke="#7c7c7c" stroke-width="0.8"/>
<rect x="498.5" y="258.0" width="7" height="4" rx="0.8" fill="#fff" stroke="#2a2a2a" stroke-width="0.9"/>
<path d="M499.8 262V262.6M504.2 262V262.6" stroke="#2a2a2a" stroke-width="0.8" fill="none"/>
<rect x="497.9" y="262.6" width="8.2" height="9.8" fill="#fff" stroke="#333" stroke-width="0.9"/>
<path d="M498.6 272.4V275.9M505.4 272.4V275.9" stroke="#2a2a2a" stroke-width="0.8" fill="none"/>
<text transform="translate(499.7 280.8) rotate(90)" font-size="8.2" fill="#222" stroke="#222" stroke-width="0.2" textLength="25.5" lengthAdjust="spacingAndGlyphs">DATA2_N</text>
<path d="M510.6 255.4V238.6Q510.6 236.1 513.5 236.1Q516.4 236.1 516.4 238.6V255.4" fill="#fff" stroke="#7c7c7c" stroke-width="0.8"/>
<rect x="510.0" y="255.4" width="7" height="4" rx="0.8" fill="#fff" stroke="#2a2a2a" stroke-width="0.9"/>
<path d="M511.3 259.4V260.4M515.7 259.4V260.4" stroke="#2a2a2a" stroke-width="0.8" fill="none"/>
<rect x="510.2" y="260.2" width="6.6" height="12.2" fill="#fff" stroke="#333" stroke-width="0.9"/>
<rect x="508.4" y="272.4" width="10.2" height="4" fill="#fff" stroke="#2a2a2a" stroke-width="0.9"/>
<path d="M511.3 274.4H512.7M514.3 274.4H515.7" stroke="#2a2a2a" stroke-width="0.7"/>
<text transform="translate(511.2 280.8) rotate(90)" font-size="8.2" fill="#222" stroke="#222" stroke-width="0.2" textLength="25.5" lengthAdjust="spacingAndGlyphs">DATA2_P</text>
<rect x="524.1" y="263.3" width="6.4" height="9.6" fill="#fff" stroke="#2a2a2a" stroke-width="0.9"/>
<rect x="523" y="272.9" width="8.8" height="3.7" fill="#fff" stroke="#2a2a2a" stroke-width="0.9"/>
<path d="M526 274.8H528.8" stroke="#2a2a2a" stroke-width="0.7"/>
<rect x="536.9" y="265.6" width="8.6" height="6.7" fill="#fff" stroke="#2a2a2a" stroke-width="0.9"/>
<path d="M538.7 272.1V275.6M543.2 272.1V275.6" stroke="#2a2a2a" stroke-width="0.7"/>
<rect x="548.4" y="265.6" width="8.6" height="6.7" fill="#fff" stroke="#2a2a2a" stroke-width="0.9"/>
<path d="M550.2 272.1V275.6M554.7 272.1V275.6" stroke="#2a2a2a" stroke-width="0.7"/>
<rect x="560" y="265.6" width="8.6" height="6.7" fill="#fff" stroke="#2a2a2a" stroke-width="0.9"/>
<path d="M561.8 272.1V275.6M566.3 272.1V275.6" stroke="#2a2a2a" stroke-width="0.7"/>
<rect x="571.4" y="265.6" width="8.6" height="6.7" fill="#fff" stroke="#2a2a2a" stroke-width="0.9"/>
<path d="M573.2 272.1V275.6M577.7 272.1V275.6" stroke="#2a2a2a" stroke-width="0.7"/>
<path d="M432.6 319.3V342.6" stroke="#2a2a2a" stroke-width="2.4" stroke-dasharray="2.3 0.5"/>
<circle cx="436.6" cy="340" r="0.7" fill="#2a2a2a"/>
<rect x="458.6" y="347.5" width="22" height="29" fill="#fff" stroke="#aaa" stroke-width="0.8"/>
<rect x="460.1" y="349" width="19" height="26" fill="none" stroke="#ccc" stroke-width="0.6"/>
<path d="M462 364H476.2M462 369.7H476.2" stroke="#999" stroke-width="0.9"/>
<path d="M458.6 366.2H480.6" stroke="#5c5c5c" stroke-width="1.1"/>
<text x="481.8" y="372.4" font-size="7.4" font-weight="normal" fill="#444" textLength="37.6" lengthAdjust="spacingAndGlyphs" >HDMI-TPA-R</text>
<path d="M420 265.1H520" stroke="#ccc" stroke-width="0.6" fill="none"/>
<text x="273.1" y="149.4" font-size="3.6" font-weight="bold" fill="#333" textLength="23" lengthAdjust="spacingAndGlyphs" >Power Supply</text>
<rect x="271.3" y="151.4" width="34.1" height="39.4" fill="#fff" stroke="#999" stroke-width="0.8"/>
<rect x="272.5" y="152.6" width="31.7" height="37" fill="none" stroke="#bbb" stroke-width="0.5"/>
<rect x="274.4" y="154.7" width="27.4" height="12.2" fill="#111" stroke="#111" stroke-width="0.6"/>
<rect x="275.5" y="155.8" width="25.2" height="10" fill="none" stroke="#777" stroke-width="0.5"/>
<text x="276.6" y="164.7" font-size="9.4" font-weight="bold" fill="#666" textLength="4.2" lengthAdjust="spacingAndGlyphs">0</text>
<text x="281.2" y="164.7" font-size="9.4" font-weight="bold" fill="#fff" textLength="19" lengthAdjust="spacingAndGlyphs">3.30</text>
<rect x="273" y="170.2" width="30.4" height="18.3" rx="1.6" fill="#fff" stroke="#3a3a3a" stroke-width="0.9"/>
<circle cx="277.4" cy="176.5" r="2.1" fill="#fff" stroke="#2a2a2a" stroke-width="1.1"/>
<circle cx="283" cy="176.5" r="2.1" fill="#fff" stroke="#2a2a2a" stroke-width="1.1"/>
<circle cx="293.6" cy="176.5" r="2.1" fill="#fff" stroke="#2a2a2a" stroke-width="1.1"/>
<circle cx="299.2" cy="176.5" r="2.1" fill="#fff" stroke="#2a2a2a" stroke-width="1.1"/>
<rect x="286.6" y="176.4" width="2.8" height="2.2" fill="#fff" stroke="#2a2a2a" stroke-width="0.7"/>
<circle cx="279.5" cy="185" r="0.9" fill="#fff" stroke="#2a2a2a" stroke-width="0.6"/>
<rect x="289.1" y="183.8" width="3.4" height="3.2" rx="0.6" fill="#333" stroke="#111" stroke-width="0.6"/>
<circle cx="290.8" cy="185.4" r="0.6" fill="#999"/>
<rect x="293.4" y="183.8" width="3.4" height="3.2" rx="0.6" fill="#333" stroke="#111" stroke-width="0.6"/>
<circle cx="295.1" cy="185.4" r="0.6" fill="#999"/>
<rect x="297.5" y="183.8" width="3.4" height="3.2" rx="0.6" fill="#333" stroke="#111" stroke-width="0.6"/>
<circle cx="299.2" cy="185.4" r="0.6" fill="#999"/>
<path d="M290.8 187V209.4H336.8M299.1 187V201H335" fill="none" stroke="#111" stroke-width="1.1"/>
<path d="M349.3 197.8L400.8 166.2Q404.6 171 404.3 177L403.7 188.6Q402.6 193.6 399.6 195.8L352 223.8Q350 225 349.8 222Z" fill="#fff" stroke="#2a2a2a" stroke-width="0.8" stroke-linejoin="round"/>
<path d="M352.8 220.4L399.4 192.6" fill="none" stroke="#999" stroke-width="0.5"/>
<path d="M351.6 199.4L399 170.4" fill="none" stroke="#aaa" stroke-width="0.5"/>
<path d="M399.4 170Q402 176 401.2 190" fill="none" stroke="#555" stroke-width="0.7"/>
<path d="M402.8 172Q404.2 180 403.4 188" fill="none" stroke="#2a2a2a" stroke-width="1.2"/>
<path d="M331.8 189.4L386.2 158.4L400.8 166.2L349.2 197.8Z" fill="#fff" stroke="#2a2a2a" stroke-width="0.9" stroke-linejoin="round"/>
<path d="M334.3 189.5L386.3 159.6" fill="none" stroke="#555" stroke-width="0.6"/>
<path d="M335.7 190.1L387.5 160.3" fill="none" stroke="#2a2a2a" stroke-width="1.3"/>
<path d="M337.1 190.8L388.6 160.9" fill="none" stroke="#555" stroke-width="0.6"/>
<path d="M348.2 196.2L398.0 165.9" fill="none" stroke="#555" stroke-width="0.7"/>
<path d="M349.4 196.7L399.0 166.4" fill="none" stroke="#8a8a8a" stroke-width="0.5"/>
<path d="M337.6 190.5L348.7 195.8M388.1 161.2L397.5 166.2" fill="none" stroke="#555" stroke-width="0.7"/>
<path d="M354.2 180.8L365.8 185.4" fill="none" stroke="#2a2a2a" stroke-width="1.1"/>
<path d="M357.1 180.2L367.4 184.5" fill="none" stroke="#555" stroke-width="0.5"/>
<path d="M369.8 171.8L380.9 176.3" fill="none" stroke="#2a2a2a" stroke-width="1.1"/>
<path d="M372.6 171.2L382.4 175.4" fill="none" stroke="#555" stroke-width="0.5"/>
<circle cx="353.6" cy="188.0" r="1.5" fill="#666" stroke="#2a2a2a" stroke-width="0.7"/>
<circle cx="361.4" cy="186.7" r="0.9" fill="#666" stroke="#2a2a2a" stroke-width="0.7"/>
<circle cx="366.1" cy="183.8" r="1.3" fill="#666" stroke="#2a2a2a" stroke-width="0.7"/>
<circle cx="368.9" cy="178.9" r="1.3" fill="#666" stroke="#2a2a2a" stroke-width="0.7"/>
<circle cx="381.5" cy="170.2" r="1.3" fill="#666" stroke="#2a2a2a" stroke-width="0.7"/>
<circle cx="386.0" cy="164.3" r="0.9" fill="#666" stroke="#2a2a2a" stroke-width="0.7"/>
<circle cx="391.3" cy="165.3" r="0.9" fill="#666" stroke="#2a2a2a" stroke-width="0.7"/>
<path d="M365.5 185.3L371.2 181.8" fill="none" stroke="#2a2a2a" stroke-width="1.6"/>
<path d="M361.1 179.6L365.4 177.1" fill="none" stroke="#2a2a2a" stroke-width="0.9" stroke-dasharray="1.2 0.6"/>
<path d="M374.9 170.9L379.7 168.1" fill="none" stroke="#2a2a2a" stroke-width="0.9" stroke-dasharray="1.2 0.6"/>
<path d="M386.1 166.7L389.3 164.8" fill="none" stroke="#2a2a2a" stroke-width="0.9" stroke-dasharray="1.2 0.6"/>
<path d="M348.2 183.6L353.8 187.5" fill="none" stroke="#2a2a2a" stroke-width="1.1"/>
<path d="M366.2 177.5L368.9 178.9M379.3 169.0L381.5 170.2" fill="none" stroke="#2a2a2a" stroke-width="0.9"/>
<path d="M333.3 189.6L348.2 196.8Q349.9 197.7 349.9 199.6V222.3Q349.9 224.6 347.8 223.6L333 216.6Q331.4 215.8 331.4 214V190.8Q331.4 188.8 333.3 189.6Z" fill="#fff" stroke="#2a2a2a" stroke-width="1" stroke-linejoin="round"/>
<path d="M334.2 192.3L346.8 198.4Q347.8 198.9 347.8 200V220.2L334.2 213.8Z" fill="none" stroke="#555" stroke-width="0.6"/>
<circle cx="333.3" cy="191.4" r="0.9" fill="#2a2a2a"/>
<circle cx="347.9" cy="198.6" r="0.9" fill="#2a2a2a"/>
<circle cx="333" cy="215.4" r="0.9" fill="#2a2a2a"/>
<circle cx="347.9" cy="222.4" r="0.9" fill="#2a2a2a"/>
<circle cx="339.6" cy="200.8" r="3" fill="#fff" stroke="#2a2a2a" stroke-width="0.9"/>
<circle cx="338.2" cy="201.6" r="1.5" fill="#555" stroke="#2a2a2a" stroke-width="0.7"/>
<path d="M334.6 201H337.6" stroke="#111" stroke-width="1.5"/>
<circle cx="337.6" cy="209.3" r="1" fill="#fff" stroke="#2a2a2a" stroke-width="0.7"/>
<circle cx="339.8" cy="217.4" r="3" fill="#fff" stroke="#2a2a2a" stroke-width="0.9"/>
<circle cx="339.4" cy="217.8" r="1.7" fill="#fff" stroke="#2a2a2a" stroke-width="0.7"/>
<path d="M338.8 218.4L336.8 220.4" stroke="#2a2a2a" stroke-width="2.2"/>
<path d="M340 203.2L378.2 216M347.5 223.5L370 229.5" fill="none" stroke="#2a2a2a" stroke-width="0.8"/>
<text x="382.2" y="219.7" font-size="6.6" font-weight="normal" fill="#111" textLength="18.8" lengthAdjust="spacingAndGlyphs" >CLOCK</text>
<text x="404.4" y="219.7" font-size="6.6" font-weight="normal" fill="#111" textLength="4.3" lengthAdjust="spacingAndGlyphs" >N</text>
<text x="375.2" y="233.2" font-size="5.6" font-weight="normal" fill="#111" textLength="24" lengthAdjust="spacingAndGlyphs" >CLOCK_P</text>
<ellipse cx="373.3" cy="414.2" rx="37.7" ry="17" fill="none" stroke="#8c8c8c" stroke-width="5.3"/>
<ellipse cx="373.3" cy="414.2" rx="37.7" ry="17" fill="none" stroke="#fff" stroke-width="3.9"/>
<ellipse cx="373.3" cy="414.2" rx="37.7" ry="17" fill="none" stroke="#8c8c8c" stroke-width="0.7"/>
<path d="M327.8 354.2Q332.5 356 334.4 364Q336.6 374 337.2 392Q337 402 334.6 409" fill="none" stroke="#8c8c8c" stroke-width="4.4" stroke-linecap="butt"/>
<path d="M327.8 354.2Q332.5 356 334.4 364Q336.6 374 337.2 392Q337 402 334.6 409" fill="none" stroke="#fff" stroke-width="3" stroke-linecap="butt"/>
<path d="M411.6 419Q412.6 411.6 425 409.8Q440 408.6 450 408Q460 406.6 466 405.4Q469 404.6 469.2 402.5" fill="none" stroke="#8c8c8c" stroke-width="4.4" stroke-linecap="butt"/>
<path d="M411.6 419Q412.6 411.6 425 409.8Q440 408.6 450 408Q460 406.6 466 405.4Q469 404.6 469.2 402.5" fill="none" stroke="#fff" stroke-width="3" stroke-linecap="butt"/>
<text x="363.6" y="388.4" font-size="8.3" font-weight="normal" fill="#222" textLength="30.4" lengthAdjust="spacingAndGlyphs" >Cable DUT</text>
<path d="M302.2 344.5L311.5 345.3Q313.5 343.6 315.4 343.8L319 344.1Q320.8 344.6 321 347.6V360Q320.8 363.4 319 363.9L315.4 364.7Q313.5 364.8 311.5 363.1L302.2 363.5Z" fill="#fff" stroke="#2a2a2a" stroke-width="1" stroke-linejoin="round"/>
<path d="M319.3 348H310.7Q306.5 348 306.5 354.2Q306.5 360.4 310.7 360.4H319.3" fill="none" stroke="#2a2a2a" stroke-width="0.8"/>
<path d="M311.9 351.5H316.2Q318.9 351.5 318.9 354.4Q318.9 357.3 316.2 357.3H311.9" fill="none" stroke="#2a2a2a" stroke-width="0.8"/>
<ellipse cx="322.7" cy="353.5" rx="1.6" ry="5.9" fill="#fff" stroke="#2a2a2a" stroke-width="0.8"/>
<rect x="324.3" y="349.2" width="3.9" height="9.7" fill="#999" stroke="#2a2a2a" stroke-width="0.8"/>
<path d="M326.2 349.2V358.9" stroke="#2a2a2a" stroke-width="0.7"/>
<path d="M459.9 376.5H478.9L478 384.7Q480.2 387 480.2 389Q480.2 391.4 479 392.8L475.9 395H462.9L460.3 392.8Q459 391.4 459 389Q459 387 460.8 384.7Z" fill="#fff" stroke="#2a2a2a" stroke-width="1" stroke-linejoin="round"/>
<path d="M462.1 392.8V387Q462.1 380.3 468.9 380.3Q475.9 380.3 475.9 387V392.8" fill="none" stroke="#2a2a2a" stroke-width="0.8"/>
<path d="M465.5 386V388.8Q465.5 391.6 468.6 391.6Q471.6 391.6 471.6 388.8V386" fill="none" stroke="#2a2a2a" stroke-width="0.8"/>
<ellipse cx="469.1" cy="396.5" rx="6.2" ry="1.6" fill="#fff" stroke="#2a2a2a" stroke-width="0.8"/>
<rect x="463.4" y="398" width="11.2" height="5" fill="#999" stroke="#2a2a2a" stroke-width="0.8"/>
<path d="M463.4 400.5H474.6" stroke="#2a2a2a" stroke-width="0.7"/>
</svg>
</body></html>
